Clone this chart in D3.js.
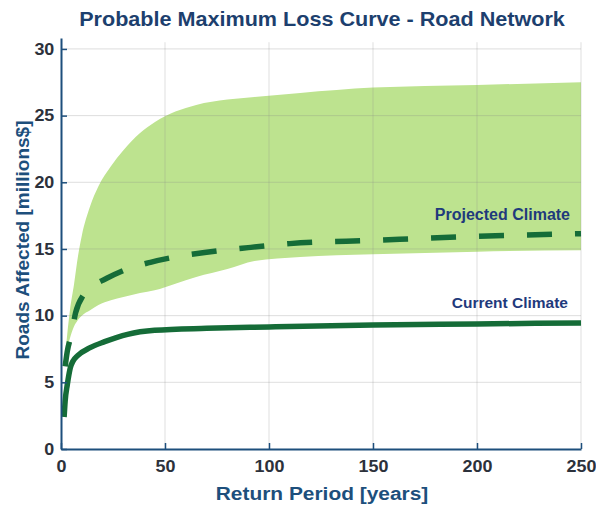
<!DOCTYPE html>
<html>
<head>
<meta charset="utf-8">
<script src="https://cdn.jsdelivr.net/npm/d3@7"></script>
<style>
    body { margin: 0; background: #fff; }
    text { font-family: "Liberation Sans", Arial, sans-serif; font-weight: bold; }
</style>
</head>
<body>
<div id="chart"></div>
<script>
// Probable Maximum Loss Curve - Road Network

// return periods (years) and losses (million $)
var currentRP = [1.5, 2, 3, 3.4, 4.5, 5.8, 8, 14, 21, 32, 45, 70, 100, 150, 200, 250];
var currentLoss = [2.4, 3.6, 4.8, 5.2, 6.1, 6.6, 7.0, 7.6, 8.05, 8.6, 8.9, 9.05, 9.15, 9.3, 9.38, 9.45];

var projectedRP = [2, 3, 5, 7, 11, 16, 22, 32, 43, 55, 70, 90, 110, 150, 200, 250];
var projectedLoss = [6.2, 7.3, 8.6, 10.2, 11.6, 12.3, 12.8, 13.5, 14.0, 14.4, 14.75, 15.1, 15.4, 15.65, 15.95, 16.15];

var bandRP = [2, 3, 4.3, 6.3, 8.2, 10, 14, 18, 24, 30, 38, 45, 55, 65, 80, 93, 115, 150, 200, 250];
var bandLow = [6.3, 7.5, 8.3, 9.2, 9.7, 10.0, 10.4, 10.8, 11.15, 11.4, 11.7, 11.9, 12.4, 12.9, 13.5, 14.1, 14.4, 14.6, 14.8, 14.9];
var bandHigh = [7.0, 8.6, 10.4, 12.4, 14.5, 16.0, 18.2, 19.7, 21.2, 22.4, 23.7, 24.5, 25.3, 25.8, 26.2, 26.4, 26.7, 27.1, 27.3, 27.5];

var xTicks = [0, 50, 100, 150, 200, 250];
var yTicks = [0, 5, 10, 15, 20, 25, 30];

var svgWidth = 596;
var svgHeight = 507;

var margin = {
    top: 38,
    bottom: 58,
    right: 15,
    left: 61
};

var height = svgHeight - margin.top - margin.bottom;
var width = svgWidth - margin.left - margin.right;

var svg = d3.select("#chart")
    .append("svg")
    .attr("width", svgWidth)
    .attr("height", svgHeight);

var chartGroup = svg.append("g")
    .attr("transform", `translate(${margin.left}, ${margin.top})`);

var xScale = d3.scaleLinear().domain([0, 250]).range([0, width]);
// axis line runs a little above the top tick
var yScale = d3.scaleLinear().domain([0, 30.82]).range([height, 0]);

// band between low and high projections
var band = bandRP.map((d, i) => ({ rp: d, lo: bandLow[i], hi: bandHigh[i] }));
var area = d3.area()
    .x(d => xScale(d.rp))
    .y0(d => yScale(d.lo))
    .y1(d => yScale(d.hi))
    .curve(d3.curveMonotoneX);

chartGroup.append("path")
    .datum(band)
    .attr("d", area)
    .attr("fill", "#bde38f");

// grid lines
chartGroup.append("g")
    .selectAll("line")
    .data(yTicks.slice(1))
    .enter()
    .append("line")
    .attr("x1", 0)
    .attr("x2", width)
    .attr("y1", d => yScale(d))
    .attr("y2", d => yScale(d))
    .attr("stroke", "#888")
    .attr("stroke-opacity", 0.28);

chartGroup.append("g")
    .selectAll("line")
    .data(xTicks.slice(1))
    .enter()
    .append("line")
    .attr("x1", d => xScale(d))
    .attr("x2", d => xScale(d))
    .attr("y1", yScale(30.5))
    .attr("y2", height)
    .attr("stroke", "#888")
    .attr("stroke-opacity", 0.28);

// lines
var line = d3.line()
    .x(d => xScale(d[0]))
    .y(d => yScale(d[1]))
    .curve(d3.curveMonotoneX);

chartGroup.append("path")
    .datum(projectedRP.map((d, i) => [d, projectedLoss[i]]))
    .attr("d", line)
    .attr("fill", "none")
    .attr("stroke", "#156c38")
    .attr("stroke-width", 5.5)
    .attr("stroke-dasharray", "25,23");

chartGroup.append("path")
    .datum(currentRP.map((d, i) => [d, currentLoss[i]]))
    .attr("d", line)
    .attr("fill", "none")
    .attr("stroke", "#156c38")
    .attr("stroke-width", 5.5);

// axes
var bottomAxis = d3.axisBottom(xScale).tickValues(xTicks).tickSize(-6).tickSizeOuter(0).tickPadding(12);
var leftAxis = d3.axisLeft(yScale).tickValues(yTicks).tickSize(-6).tickSizeOuter(0).tickPadding(6);

var xAxis = chartGroup.append("g")
    .attr("transform", `translate(0, ${height})`)
    .call(bottomAxis);

var yAxis = chartGroup.append("g")
    .call(leftAxis);

[xAxis, yAxis].forEach(function (ax) {
    ax.select(".domain").attr("stroke", "#1d4f7c").attr("stroke-width", 2);
    ax.selectAll(".tick line").attr("stroke", "#1d4f7c").attr("stroke-width", 1.5);
    ax.selectAll(".tick text")
        .attr("fill", "#2c313b")
        .attr("transform", "scale(1.12,1)")
        .style("font-size", "16px")
        .style("font-weight", "bold")
        .style("font-family", "'Liberation Sans', Arial, sans-serif");
});

// series labels
chartGroup.append("text")
    .attr("x", 509)
    .attr("y", 182)
    .attr("text-anchor", "end")
    .attr("fill", "#1f3a7c")
    .style("font-size", "16px")
    .text("Projected Climate");

chartGroup.append("text")
    .attr("x", 507)
    .attr("y", 270)
    .attr("text-anchor", "end")
    .attr("fill", "#1f3a7c")
    .style("font-size", "15.5px")
    .text("Current Climate");

// title and axis titles
svg.append("text")
    .attr("transform", "translate(322, 26) scale(1.08,1)")
    .attr("text-anchor", "middle")
    .attr("fill", "#1d3f6e")
    .style("font-size", "20px")
    .text("Probable Maximum Loss Curve - Road Network");

svg.append("text")
    .attr("transform", "translate(322, 500) scale(1.1,1)")
    .attr("text-anchor", "middle")
    .attr("fill", "#1d4f7c")
    .style("font-size", "19px")
    .text("Return Period [years]");

svg.append("text")
    .attr("transform", "rotate(-90)")
    .attr("x", -240)
    .attr("y", 29)
    .attr("text-anchor", "middle")
    .attr("fill", "#1d4f7c")
    .style("font-size", "19px")
    .text("Roads Affected [millions$]");
</script>
</body>
</html>
